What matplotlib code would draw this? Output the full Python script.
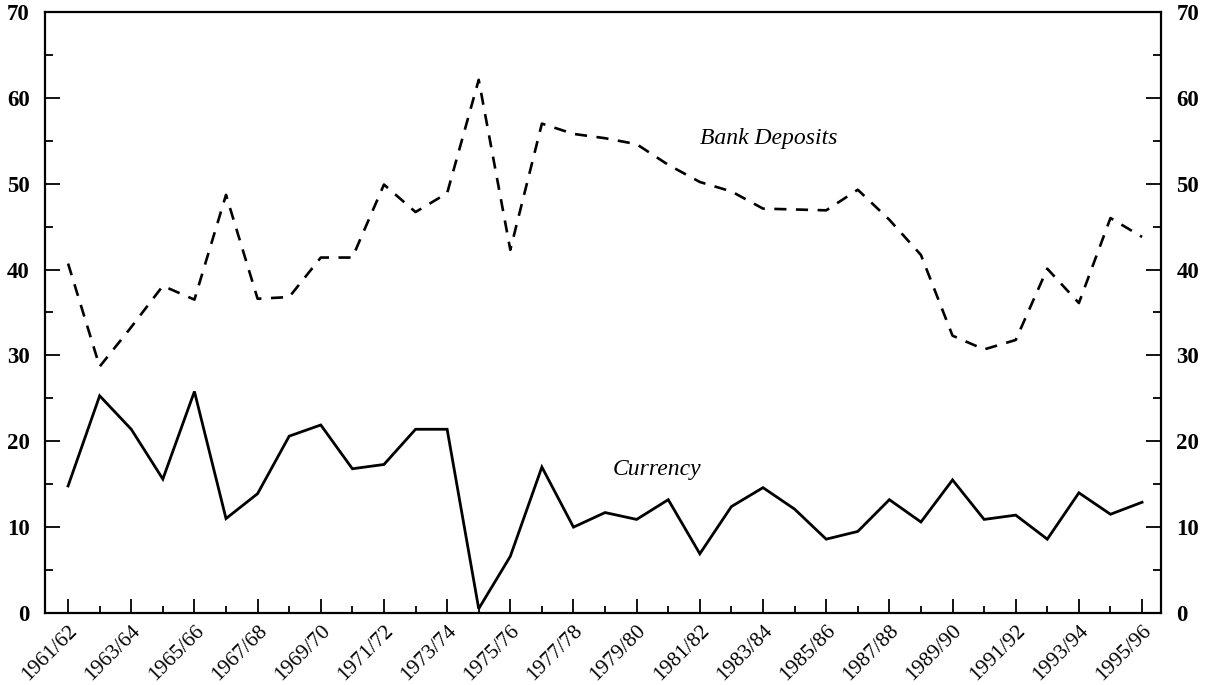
import matplotlib
matplotlib.use("Agg")
import matplotlib.pyplot as plt
import matplotlib.transforms as mtransforms
from matplotlib.ticker import MultipleLocator, FixedLocator

years = [f"{y}/{str(y + 1)[-2:]}" for y in range(1961, 1996)]

currency = [14.8, 25.3, 21.4, 15.6, 25.8, 11.0, 13.9, 20.6, 21.9, 16.8,
            17.3, 21.4, 21.4, 0.5, 6.6, 17.0, 10.0, 11.7, 10.9, 13.2,
            6.9, 12.4, 14.6, 12.1, 8.6, 9.5, 13.2, 10.6, 15.5, 10.9,
            11.4, 8.6, 14.0, 11.5, 12.9]

bank_deposits = [40.7, 28.7, 33.3, 38.1, 36.5, 48.7, 36.6, 36.8, 41.4, 41.4,
                 49.9, 46.7, 48.9, 62.1, 42.3, 57.0, 55.8, 55.3, 54.6, 52.2,
                 50.2, 49.1, 47.1, 47.0, 46.9, 49.3, 45.8, 41.7, 32.3, 30.7,
                 31.8, 40.1, 36.1, 46.0, 43.8]

plt.rcParams['font.family'] = ['Liberation Serif', 'DejaVu Serif']

fig = plt.figure(figsize=(12.07, 6.85), dpi=100)
ax = fig.add_axes([0.0373, 0.1051, 0.9246, 0.8774])

x = list(range(len(years)))
ax.plot(x, bank_deposits, color='black', lw=1.9, linestyle=(0, (4.6, 3.6)))
ax.plot(x, currency, color='black', lw=2.0, solid_joinstyle='miter')

ax.set_xlim(-0.73, 34.6)
ax.set_ylim(0, 70)

ax.xaxis.set_major_locator(FixedLocator(x[::2]))
ax.xaxis.set_minor_locator(FixedLocator(x[1::2]))
ax.set_xticklabels(years[::2], rotation=45, ha='right', rotation_mode='anchor',
                   fontsize=15.5)
offset = mtransforms.ScaledTranslation(-3 / 100, 0, fig.dpi_scale_trans)
for lab in ax.get_xticklabels():
    lab.set_transform(lab.get_transform() + offset)

ax.yaxis.set_major_locator(MultipleLocator(10))
ax.yaxis.set_minor_locator(MultipleLocator(5))

ax.tick_params(axis='y', which='both', direction='in', left=True, right=True,
               labelleft=True, labelright=True, labelsize=16.5, width=1.3)
ax.tick_params(axis='y', which='major', length=11, pad=11)
ax.tick_params(axis='y', which='minor', length=6)
ax.tick_params(axis='x', which='both', direction='in', top=False, width=1.3)
ax.tick_params(axis='x', which='major', length=10, pad=6)
ax.tick_params(axis='x', which='minor', length=5)

for t in ax.yaxis.get_major_ticks():
    t.label2.set_fontweight('bold')
    t.label1.set_fontweight('bold')

for sp in ax.spines.values():
    sp.set_linewidth(1.6)

ax.text(22.17, 55.3, "Bank Deposits", style='italic', fontsize=17,
        ha='center', va='center')
ax.text(18.65, 16.7, "Currency", style='italic', fontsize=17,
        ha='center', va='center')

fig.savefig("out.png", dpi=100)
